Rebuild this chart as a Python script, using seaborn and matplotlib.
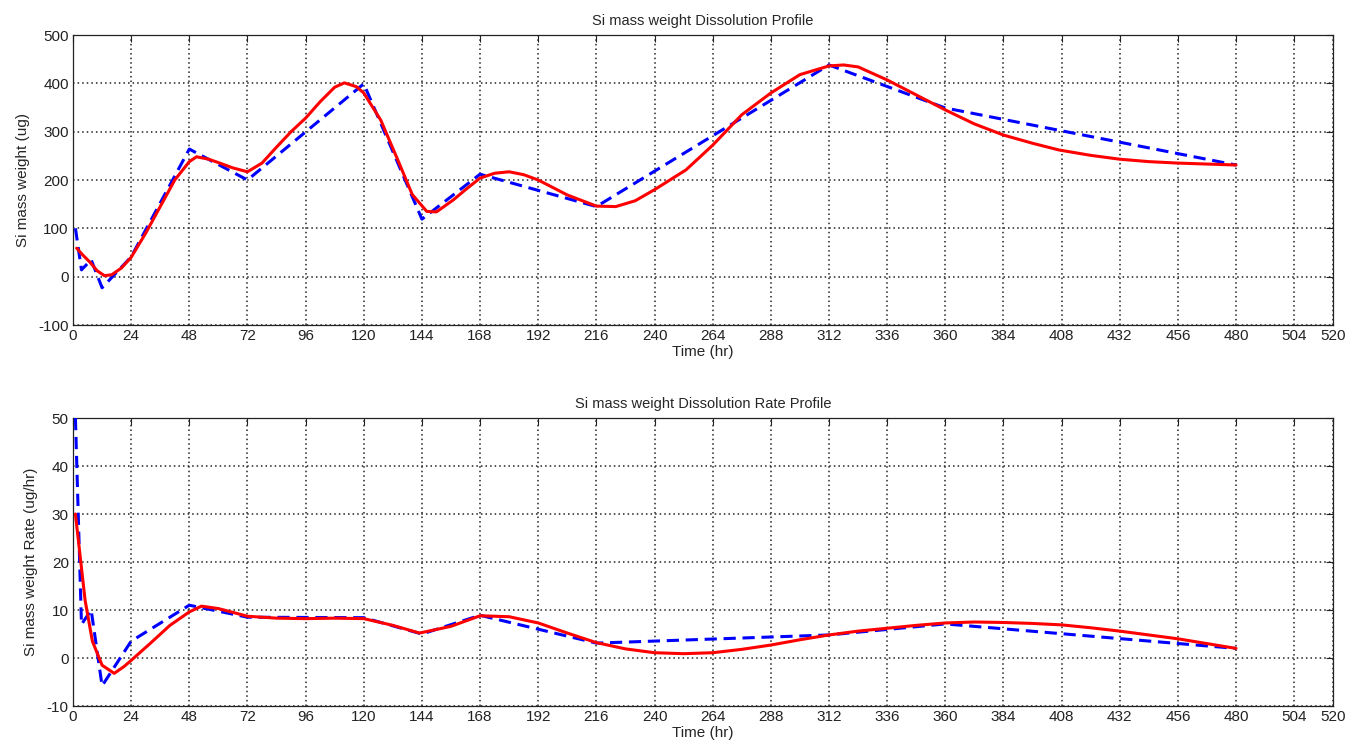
import numpy as np
import pandas as pd
import matplotlib
matplotlib.use("Agg")
import matplotlib.pyplot as plt
import seaborn as sns

# ---- data ----
blue_t = [1, 3.5, 7.5, 12, 24, 48, 72, 120, 144, 168, 216, 312, 360, 480]
mass_meas = [100, 14, 35, -23, 41, 264, 200, 399, 119, 212, 145, 438, 349, 231]
rate_meas = [50, 7, 10, -5.8, 3.5, 11, 8.5, 8.4, 5, 8.9, 3.1, 4.8, 7.1, 2]

mass_fit_t = [1.5, 4, 7, 10, 13, 16, 20, 24, 30, 36, 42, 48, 51, 56, 60, 66, 72, 78,
              84, 90, 96, 102, 108, 112, 117, 120, 127, 134, 140, 146, 150, 157, 162,
              168, 174, 180, 186, 192, 204, 216, 224, 232, 240, 253, 264, 276, 288,
              300, 312, 318, 324, 336, 348, 360, 372, 384, 396, 407, 420, 432, 444,
              456, 468, 480]
mass_fit = [59, 45, 30, 12, 2, 4, 18, 40, 90, 145, 200, 238, 248, 243, 236, 225, 217,
            235, 268, 300, 328, 362, 392, 401, 393, 380, 324, 242, 170, 135, 134, 159,
            180, 204, 214, 217, 211, 200, 169, 146, 145, 157, 180, 221, 272, 335, 380,
            418, 436, 438, 434, 407, 376, 345, 316, 293, 276, 262, 251, 243, 238, 235,
            233, 231]

rate_fit_t = [1, 3, 5, 8, 12, 17, 21, 24, 32, 40, 48, 53, 60, 72, 84, 96, 108, 120,
              132, 143, 156, 168, 180, 192, 204, 216, 228, 240, 252, 264, 276, 288,
              300, 312, 324, 336, 348, 360, 372, 384, 396, 408, 420, 432, 444, 456,
              468, 480]
rate_fit = [30, 21, 12, 3.5, -1.5, -3.2, -1.8, -0.5, 3.1, 6.8, 9.6, 10.8, 10.3, 8.7,
            8.3, 8.2, 8.3, 8.2, 6.8, 5.2, 6.6, 8.8, 8.6, 7.3, 5.2, 3.2, 1.9, 1.1, 0.9,
            1.1, 1.8, 2.7, 3.8, 4.8, 5.6, 6.2, 6.8, 7.3, 7.5, 7.4, 7.2, 6.9, 6.3, 5.6,
            4.8, 4.0, 3.0, 2.0]

x_ticks = [0, 24, 48, 72, 96, 120, 144, 168, 192, 216, 240, 264, 288, 312, 336, 360,
           384, 408, 432, 456, 480, 504, 520]
top_yticks = [-100, 0, 100, 200, 300, 400, 500]
bot_yticks = [-10, 0, 10, 20, 30, 40, 50]

titles = ["Si mass weight Dissolution Profile", "Si mass weight Dissolution Rate Profile"]
ylabels = ["Si mass weight (ug)", "Si mass weight Rate (ug/hr)"]
xlabel = "Time (hr)"

# ---- style ----
sns.set_style("white")
plt.rcParams["font.family"] = ["Liberation Sans", "DejaVu Sans"]
plt.rcParams["font.size"] = 11

fig = plt.figure(figsize=(13.6, 7.47), dpi=100)
ax1 = fig.add_axes([73 / 1360, 1 - 325 / 747, 1260 / 1360, 290 / 747])
ax2 = fig.add_axes([73 / 1360, 1 - 706 / 747, 1260 / 1360, 288 / 747])

panels = [
    (ax1, blue_t, mass_meas, mass_fit_t, mass_fit, top_yticks),
    (ax2, blue_t, rate_meas, rate_fit_t, rate_fit, bot_yticks),
]

for i, (ax, bt, bv, rt, rv, yt) in enumerate(panels):
    df_b = pd.DataFrame({"t": bt, "v": bv})
    df_r = pd.DataFrame({"t": rt, "v": rv})
    sns.lineplot(data=df_b, x="t", y="v", ax=ax, color="#0000ff", lw=2.2,
                 linestyle=(0, (4, 2.2)), estimator=None, sort=False, zorder=3)
    sns.lineplot(data=df_r, x="t", y="v", ax=ax, color="#ff0000", lw=2.2,
                 estimator=None, sort=False, zorder=4)
    ax.set_xlim(0, 520)
    ax.set_ylim(yt[0], yt[-1])
    ax.set_xticks(x_ticks)
    ax.set_yticks(yt)
    ax.set_xticklabels([str(v) for v in x_ticks])
    ax.set_yticklabels([str(v) for v in yt])
    ax.grid(True, linestyle=(0, (1, 2)), color="#222222", lw=1.1)
    ax.tick_params(direction="in", top=True, right=True, length=5, width=0.8,
                   labelsize=11, pad=3, colors="#222222")
    for s in ax.spines.values():
        s.set_color("#222222")
        s.set_linewidth(0.9)
    ax.set_title(titles[i], fontsize=10.5, pad=7)
    ax.set_xlabel(xlabel, fontsize=11, labelpad=1)
    ax.set_ylabel(ylabels[i], fontsize=11, labelpad=6)

fig.savefig("out.png", dpi=100)
